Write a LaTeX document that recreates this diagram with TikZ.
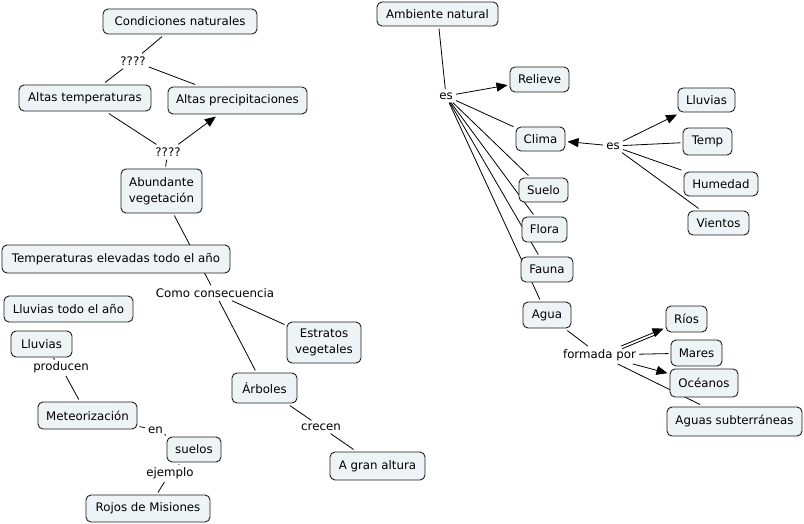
\documentclass[tikz,border=0pt]{standalone}
\usepackage{fontspec}
\setmainfont{DejaVu Sans}
\usetikzlibrary{arrows.meta,backgrounds}
\definecolor{boxfill}{RGB}{238,243,245}
\definecolor{boxline}{RGB}{30,30,30}
\begin{document}
\begin{tikzpicture}[x=1pt,y=-1pt,
  concept/.style={draw=boxline, fill=boxfill, rounded corners=5pt, line width=0.9pt,
    inner sep=0pt, align=center, outer sep=2.5pt,
    font=\fontsize{11.8}{16}\selectfont},
  sz/.style 2 args={minimum width=#1pt, minimum height=#2pt},
  lab/.style={inner sep=3pt, font=\fontsize{11.8}{16}\selectfont},
  link/.style={draw=black, line width=0.8pt},
  arr/.style={link, -{Triangle[length=11pt,width=9pt]}}
]
\useasboundingbox (0,0) rectangle (804,524);

% left part
\node[concept, sz={154}{25}] (cn) at (180,21.5) {Condiciones naturales};
\node[lab] (q1) at (133,61) {????};
\node[concept, sz={132}{26}] (at) at (85,98) {Altas temperaturas};
\node[concept, sz={139}{27}] (ap) at (237.5,100.5) {Altas precipitaciones};
\node[lab] (q2) at (168,152) {????};
\node[concept, sz={81}{44}] (av) at (161.5,191) {Abundante\\vegetación};
\node[concept, sz={228}{28}] (te) at (116,259) {Temperaturas elevadas todo el año};
\node[lab] (cc) at (215,293) {Como consecuencia};
\node[concept, sz={129}{26}] (lt) at (68.5,309) {Lluvias todo el año};
\node[concept, sz={74}{41}] (ev) at (324,342.5) {Estratos\\vegetales};
\node[concept, sz={61}{26}] (ll) at (41.5,344) {Lluvias};
\node[lab] (prod) at (61,367) {producen};
\node[concept, sz={65}{30}] (arb) at (264.5,388) {Árboles};
\node[concept, sz={99}{27}] (met) at (87.5,415.5) {Meteorización};
\node[lab] (en) at (155.5,430) {en};
\node[concept, sz={54}{25}] (sue) at (194,449.5) {suelos};
\node[lab] (cr) at (321,427) {crecen};
\node[concept, sz={95}{28}] (gran) at (377.5,466) {A gran altura};
\node[lab] (ej) at (170,473) {ejemplo};
\node[concept, sz={124}{27}] (roj) at (148,508.5) {Rojos de Misiones};

% right part
\node[concept, sz={121}{24}] (an) at (437.5,14) {Ambiente natural};
\node[lab] (es1) at (446,96) {es};
\node[concept, sz={59}{25}] (rel) at (539.5,79.5) {Relieve};
\node[concept, sz={49}{24}] (cli) at (540.5,139) {Clima};
\node[concept, sz={49}{24}] (suelo) at (543.5,190) {Suelo};
\node[concept, sz={45}{25}] (flora) at (544.5,229.5) {Flora};
\node[concept, sz={52}{25}] (fauna) at (547,269.5) {Fauna};
\node[concept, sz={48}{26}] (agua) at (547,315) {Agua};
\node[lab] (es2) at (613,146) {es};
\node[concept, sz={57}{24}] (llr) at (706.5,100) {Lluvias};
\node[concept, sz={49}{27}] (temp) at (707.5,141.5) {Temp};
\node[concept, sz={74}{24}] (hum) at (721,184) {Humedad};
\node[concept, sz={61}{24}] (vien) at (718.5,223) {Vientos};
\node[lab] (fp) at (599.5,355) {formada por};
\node[concept, sz={41}{26}] (rios) at (686.5,319) {Ríos};
\node[concept, sz={51}{26}] (mares) at (696.5,353) {Mares};
\node[concept, sz={68}{28}] (oce) at (704,383) {Océanos};
\node[concept, sz={135}{29}] (aguas) at (734.5,421.5) {Aguas subterráneas};

\begin{scope}[on background layer]
\fill[white] (0,0) rectangle (804,524);
\draw[link] (cn) -- (q1);
\draw[link] (q1) -- (at);
\draw[link] (q1) -- (ap);
\draw[link] (at) -- (q2);
\draw[arr] (q2) -- (ap);
\draw[link] (q2) -- (av);
\draw[link] (av) -- (cc);
\draw[link] (cc) -- (ev);
\draw[link] (cc) -- (arb);
\draw[link] (arb) -- (cr);
\draw[link] (cr) -- (gran);
\draw[link] (ll) -- (prod);
\draw[link] (prod) -- (met);
\draw[link] (met) -- (en);
\draw[link] (en) -- (sue);
\draw[link] (sue) -- (ej);
\draw[link] (ej) -- (roj);

\draw[link] (an) -- (es1);
\draw[arr] (es1) -- (rel);
\draw[link] (es1) -- (cli);
\draw[link] (es1) -- (suelo);
\draw[link] (es1) -- (flora);
\draw[link] (es1) -- (fauna);
\draw[link] (es1) -- (agua);
\draw[arr] (es2) -- (cli);
\draw[arr] (es2) -- (llr);
\draw[link] (es2) -- (temp);
\draw[link] (es2) -- (hum);
\draw[link] (es2) -- (vien);
\draw[link] (agua) -- (fp);
\draw[arr] (fp) -- (rios);
\draw[link, shorten >=9pt, transform canvas={shift={(1.1,2.6)}}] (fp) -- (rios);
\draw[link] (fp) -- (mares);
\draw[arr] (fp) -- (oce);
\draw[link] (fp) -- (aguas);
\end{scope}
\end{tikzpicture}
\end{document}
